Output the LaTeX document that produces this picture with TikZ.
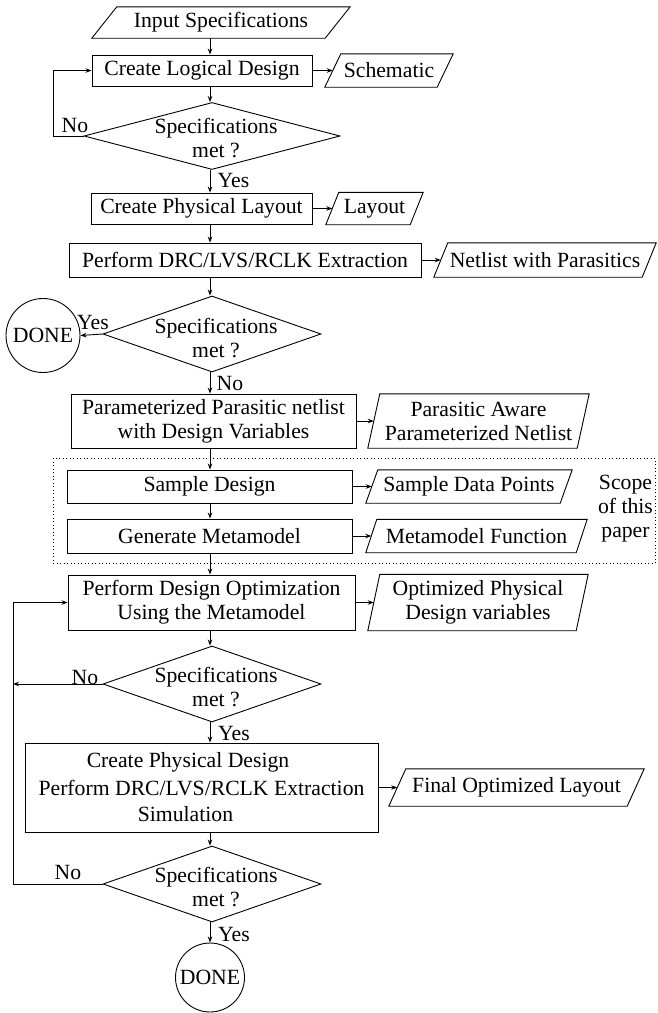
\documentclass[tikz,border=0pt]{standalone}
\usepackage{fontspec}
\setmainfont{Liberation Serif}
\usetikzlibrary{shapes.geometric,arrows.meta}
\newcommand\drawpara[2]{\draw[lineS] ([xshift=#2]#1.north west) -- (#1.north east) -- ([xshift=-#2]#1.south east) -- (#1.south west) -- cycle;}
\begin{document}
\begin{tikzpicture}[x=1pt,y=-1pt,font=\fontsize{21.7}{24}\selectfont,
  lineS/.style={draw=black,line width=0.9pt},
  arr/.style={lineS,-{Stealth[length=6pt,width=4.5pt]}},
  box/.style={rectangle,draw=black,line width=0.9pt,inner sep=0pt,align=center},
  paraN/.style={rectangle,draw=none,inner sep=0pt,align=center},
  dia/.style={diamond,draw=black,line width=0.9pt,inner sep=0pt},
  term/.style={circle,draw=black,line width=0.9pt,inner sep=0pt},
  lbl/.style={inner sep=0pt,align=center}]
\useasboundingbox (0,0) rectangle (657,1013);
\coordinate (sp) at (210,0);
\coordinate (lp1) at (53,0);
\coordinate (lp2) at (13,0);

% scope box
\node[rectangle,draw=black,line width=0.9pt,dash pattern=on 1pt off 2.5pt,minimum width=602pt,minimum height=105pt,inner sep=0pt] (scopebox) at (354,510.5) {};
\node[lbl] (scopet) at (625.5,509) {Scope\\of this\\paper};

% nodes
\node[paraN,minimum width=258pt,minimum height=31pt] (in) at (221,22.5) {Input Specifications};
\drawpara{in}{25pt}
\node[box,minimum width=220pt,minimum height=31pt] (cld) at (202,70.5) {Create Logical Design};
\node[paraN,minimum width=128pt,minimum height=33pt] (sch) at (389,70.5) {Schematic};
\drawpara{sch}{16pt}
\node[dia,minimum width=256pt,minimum height=67pt] (d1) at (212,136) {};
\node[lbl] (d1t) at (216,138) {Specifications\\met ?};

\node[box,minimum width=221pt,minimum height=31pt] (cpl) at (201.5,208.5) {Create Physical Layout};
\node[paraN,minimum width=97pt,minimum height=32pt] (lay) at (374.5,208.5) {Layout};
\drawpara{lay}{13pt}
\node[box,minimum width=352pt,minimum height=34pt] (drc) at (245,260) {Perform DRC/LVS/RCLK Extraction};
\node[paraN,minimum width=222pt,minimum height=34pt] (net) at (545,260) {Netlist with Parasitics};
\drawpara{net}{14pt}
\node[dia,minimum width=218pt,minimum height=76pt] (d2) at (212,334) {};
\node[lbl] (d2t) at (216,338) {Specifications\\met ?};
\node[term,minimum size=74pt] (done1) at (43,335.5) {DONE};

\node[box,minimum width=285pt,minimum height=54pt] (ppn) at (213.5,421) {Parameterized Parasitic netlist\\with Design Variables};
\node[paraN,minimum width=221pt,minimum height=54pt] (paw) at (478.5,421) {Parasitic Aware\\Parameterized Netlist};
\drawpara{paw}{12pt}

\node[box,minimum width=285pt,minimum height=33pt] (sd) at (209.5,486.5) {Sample Design};
\node[paraN,minimum width=206pt,minimum height=33pt] (sdp) at (469,486.5) {Sample Data Points};
\drawpara{sdp}{12pt}
\node[box,minimum width=285pt,minimum height=34pt] (gm) at (209.5,536) {Generate Metamodel};
\node[paraN,minimum width=221pt,minimum height=33pt] (mf) at (476.5,536) {Metamodel Function};
\drawpara{mf}{11pt}

\node[box,minimum width=287pt,minimum height=55pt] (pdo) at (211.5,602.5) {Perform Design Optimization\\Using the Metamodel};
\node[paraN,minimum width=220pt,minimum height=56pt] (opd) at (478,602.5) {Optimized Physical\\Design variables};
\drawpara{opd}{12pt}
\node[dia,minimum width=218pt,minimum height=76pt] (d3) at (212,684) {};
\node[lbl] (d3t) at (216,687) {Specifications\\met ?};

\node[box,minimum width=353pt,minimum height=89pt] (cpd) at (201.5,787.5) {Create Physical Design\kern27pt\mbox{}\\[4pt]Perform DRC/LVS/RCLK Extraction\\[2pt]Simulation\kern32pt\mbox{}};
\node[paraN,minimum width=255pt,minimum height=37pt] (fol) at (516.5,787.5) {Final Optimized Layout};
\drawpara{fol}{17pt}
\node[dia,minimum width=218pt,minimum height=76pt] (d4) at (212,884) {};
\node[lbl] (d4t) at (216,887) {Specifications\\met ?};
\node[term,minimum size=69pt] (done2) at (210,977.5) {DONE};

% labels
\node[lbl] (l1) at (75,125) {No};
\node[lbl] (l2) at (233.5,180) {Yes};
\node[lbl] (l3) at (93,322) {Yes};
\node[lbl] (l4) at (230,383) {No};
\node[lbl] (l5) at (85,677) {No};
\node[lbl] (l6) at (234,733) {Yes};
\node[lbl] (l7) at (68,872) {No};
\node[lbl] (l8) at (234,934) {Yes};

% vertical connectors
\draw[arr] (in.south -| sp) -- (cld.north -| sp);
\draw[arr] (cld.south -| sp) -- (d1.north -| sp);
\draw[arr] (d1.south -| sp) -- (cpl.north -| sp);
\draw[arr] (cpl.south -| sp) -- (drc.north -| sp);
\draw[arr] (drc.south -| sp) -- (d2.north -| sp);
\draw[arr] (d2.south -| sp) -- (ppn.north -| sp);
\draw[arr] (ppn.south -| sp) -- (sd.north -| sp);
\draw[arr] (sd.south -| sp) -- (gm.north -| sp);
\draw[arr] (gm.south -| sp) -- (pdo.north -| sp);
\draw[arr] (pdo.south -| sp) -- (d3.north -| sp);
\draw[arr] (d3.south -| sp) -- (cpd.north -| sp);
\draw[arr] (cpd.south -| sp) -- (d4.north -| sp);
\draw[arr] (d4.south -| sp) -- (done2.north -| sp);

% horizontal connectors to outputs
\draw[arr] (cld.east) -- ([xshift=8pt]sch.west);
\draw[arr] (cpl.east) -- ([xshift=6.5pt]lay.west);
\draw[arr] (drc.east) -- ([xshift=7pt]net.west);
\draw[arr] (ppn.east) -- ([xshift=6pt]paw.west);
\draw[arr] (sd.east) -- ([xshift=6pt]sdp.west);
\draw[arr] (gm.east) -- ([xshift=5.5pt]mf.west);
\draw[arr] (pdo.east) -- ([xshift=6pt]opd.west);
\draw[arr] (cpd.east) -- ([xshift=8.5pt]fol.west);

% decisions
\draw[arr] (d1.west) -- (d1.west -| lp1) |- (cld.west);
\draw[arr] (d2.west) -- (done1.east);
\draw[arr] (d3.west) -- (d3.west -| lp2);
\draw[arr] (d4.west) -- (d4.west -| lp2) |- (pdo.west);
\end{tikzpicture}
\end{document}
